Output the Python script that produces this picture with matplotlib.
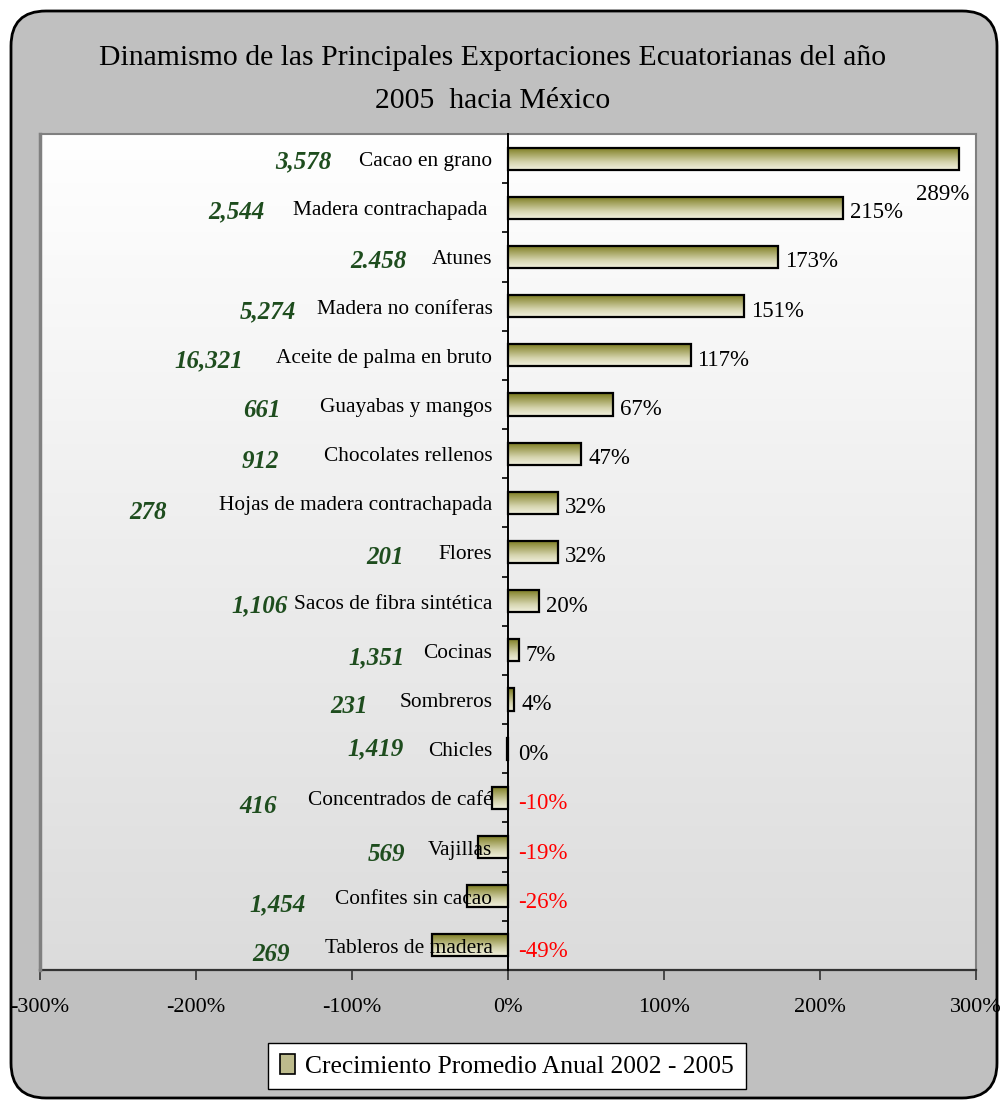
import numpy as np
import matplotlib
matplotlib.use("Agg")
import matplotlib.pyplot as plt
from matplotlib.patches import FancyBboxPatch, Rectangle
from matplotlib.colors import LinearSegmentedColormap
import matplotlib.transforms as mtransforms

plt.rcParams['font.family'] = ['Liberation Serif', 'DejaVu Serif']

# ---------------- data ----------------
categories = ["Cacao en grano", "Madera contrachapada ", "Atunes", "Madera no coníferas",
              "Aceite de palma en bruto", "Guayabas y mangos", "Chocolates rellenos",
              "Hojas de madera contrachapada", "Flores", "Sacos de fibra sintética",
              "Cocinas", "Sombreros", "Chicles", "Concentrados de café", "Vajillas",
              "Confites sin cacao", "Tableros de madera"]
growth = [289, 215, 173, 151, 117, 67, 47, 32, 32, 20, 7, 4, -0.4, -10, -19, -26, -49]
growth_labels = ["289%", "215%", "173%", "151%", "117%", "67%", "47%", "32%", "32%", "20%",
                 "7%", "4%", "0%", "-10%", "-19%", "-26%", "-49%"]
export_values = ["3,578", "2,544", "2.458", "5,274", "16,321", "661", "912", "278", "201",
                 "1,106", "1,351", "231", "1,419", "416", "569", "1,454", "269"]
# right-edge positions (axis units, %) of the hand-placed green annotations
export_label_x = [-113, -156, -65, -136, -170, -146, -147, -219, -67, -141, -66, -90,
                  -67, -148, -66, -130, -140]
export_label_dy = [0.06, 0.08, 0.10, 0.12, 0.12, 0.12, 0.16, 0.20, 0.12, 0.10, 0.16, 0.14,
                   0.0, 0.18, 0.16, 0.18, 0.18]
xticks = [-300, -200, -100, 0, 100, 200, 300]
xtick_labels = ["-300%", "-200%", "-100%", "0%", "100%", "200%", "300%"]
legend_label = "Crecimiento Promedio Anual 2002 - 2005"
title_lines = ["Dinamismo de las Principales Exportaciones Ecuatorianas del año",
               "2005  hacia México"]

W, H = 1000, 1101
fig = plt.figure(figsize=(W / 100, H / 100), dpi=100)
fig.patch.set_facecolor('white')

# outer rounded frame
frame = FancyBboxPatch((11 / W, 3 / H), 986 / W, 1087 / H,
                       boxstyle="round,pad=0,rounding_size=0.035",
                       transform=fig.transFigure, facecolor='#c0c0c0',
                       edgecolor='black', linewidth=2, zorder=-5,
                       mutation_aspect=W / H)
fig.patches.append(frame)

# title
fig.text(0.493, 1 - 58 / H, title_lines[0], ha='center', va='center', fontsize=21.4)
fig.text(0.493, 1 - 101 / H, title_lines[1], ha='center', va='center', fontsize=21.4)

# axes
ax_left, ax_right, ax_top, ax_bottom = 40, 976, 134, 970
ax = fig.add_axes([ax_left / W, 1 - ax_bottom / H, (ax_right - ax_left) / W,
                   (ax_bottom - ax_top) / H])
ax.set_zorder(2)
ax.set_xlim(-300, 300)
n = len(categories)
ax.set_ylim(n - 0.5, -0.5)

# plot area gradient background
bg_cmap = LinearSegmentedColormap.from_list('bg', ['#ffffff', '#dcdcdc'])
grad = np.linspace(0, 1, 256).reshape(-1, 1)
ax.imshow(grad, cmap=bg_cmap, aspect='auto', extent=(0, 1, 0, 1),
          transform=ax.transAxes, origin='upper', zorder=0)
ax.set_facecolor('#eeeeee')

# bars with vertical gradient
bar_cmap = LinearSegmentedColormap.from_list('bar', ['#78781a', '#a9a866', '#d6d5b0', '#f2f1e0'])
ypos = np.arange(n)
bar_h = 0.45
bars = ax.barh(ypos, growth, height=bar_h, color='none', edgecolor='black',
               linewidth=1.6, zorder=3)
for b in bars:
    x0 = b.get_x()
    x1 = x0 + b.get_width()
    y0 = b.get_y()
    y1 = y0 + b.get_height()
    im = ax.imshow(grad, cmap=bar_cmap, aspect='auto',
                   extent=(min(x0, x1), max(x0, x1), y1, y0), origin='upper', zorder=2)
    im.set_clip_path(b)
ax.set_xlim(-300, 300)
ax.set_ylim(n - 0.5, -0.5)

# category labels
for i, c in enumerate(categories):
    ax.text(-10, i + 0.06, c, ha='right', va='center', fontsize=15.4, color='black', zorder=5)

# value labels
trans_px = lambda dx, dy: mtransforms.offset_copy(ax.transData, fig=fig, x=dx, y=dy, units='dots')
for i, (v, lab) in enumerate(zip(growth, growth_labels)):
    col = '#ff0000' if v < -1 else 'black'
    if v > 270:
        ax.text(v, i, lab, ha='left', va='center', fontsize=16.5,
                color=col, transform=trans_px(-43, -36), zorder=5)
    elif v >= 0:
        ax.text(v, i, lab, ha='left', va='center', fontsize=16.5,
                color=col, transform=trans_px(7, -5), zorder=5)
    else:
        ax.text(0, i, lab, ha='left', va='center', fontsize=16.5,
                color=col, transform=trans_px(10, -6), zorder=5)

# green export annotations
for i, (t, xr, dy) in enumerate(zip(export_values, export_label_x, export_label_dy)):
    ax.text(xr, i + dy, t, ha='right', va='center', fontsize=18, fontweight='bold',
            fontstyle='italic', color='#1e4d1e', zorder=5)

# spines / axes
for s in ['top', 'right']:
    ax.spines[s].set_color('#808080')
    ax.spines[s].set_linewidth(1.5)
ax.spines['bottom'].set_color('#333333')
ax.spines['bottom'].set_linewidth(1.6)
ax.spines['left'].set_position(('data', 0))
ax.spines['left'].set_color('black')
ax.spines['left'].set_linewidth(1.4)
ax.spines['left'].set_zorder(4)
# left border of plot area
ax.plot([0, 0], [0, 1], transform=ax.transAxes, color='#808080', lw=2.5, clip_on=False, zorder=4)

ax.set_xticks(xticks)
ax.set_xticklabels(xtick_labels, fontsize=16)
ax.tick_params(axis='x', direction='out', length=7, width=1.2, pad=13, color='#333333')
ax.set_yticks(np.arange(n + 1) - 0.5)
ax.set_yticklabels([])
ax.tick_params(axis='y', direction='out', length=4, width=1.2, color='black')

# legend
handle = Rectangle((0, 0), 1, 1, facecolor='#bdbb8c', edgecolor='black', linewidth=1.2)
leg = fig.legend([handle], [legend_label], loc='center', bbox_to_anchor=(507 / W, 1 - 1066 / H),
                 fontsize=18.4, frameon=True, fancybox=False, edgecolor='black', framealpha=1,
                 handlelength=0.6, handleheight=0.8, handletextpad=0.4, borderpad=0.45,
                 borderaxespad=0)
leg.get_frame().set_linewidth(1.0)
leg.get_frame().set_facecolor('white')

fig.savefig('out.png', dpi=100, facecolor='white')
